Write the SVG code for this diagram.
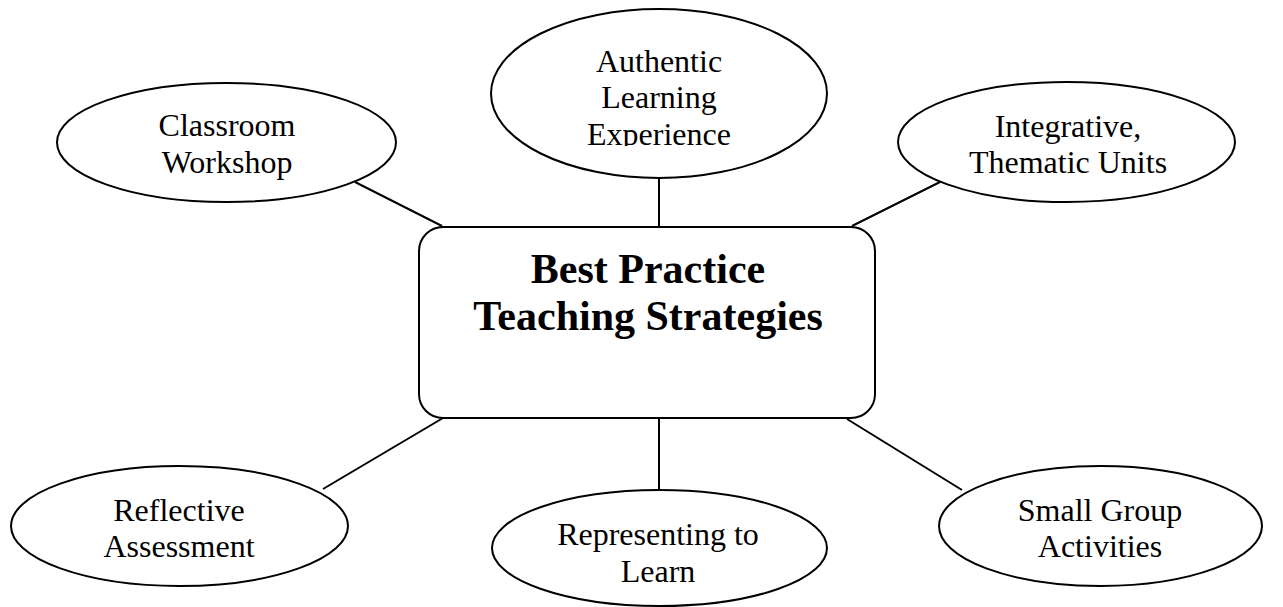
<svg xmlns="http://www.w3.org/2000/svg" width="1283" height="607" viewBox="0 0 1283 607">
  <style>
    .node { fill: #ffffff; stroke: #000000; stroke-width: 2; }
    .link { stroke: #000000; stroke-width: 2; fill: none; }
    .label { font-family: "Liberation Serif", "Times New Roman", serif; font-size: 32px; fill: #000000; text-anchor: middle; }
    .title { font-family: "Liberation Serif", "Times New Roman", serif; font-size: 42px; font-weight: bold; fill: #000000; text-anchor: middle; }
  </style>
  <defs>
    <!-- the text frame of the top oval cuts off its last line -->
    <clipPath id="authentic-clip">
      <rect x="491" y="30" width="336" height="116"/>
    </clipPath>
  </defs>
  <rect width="1283" height="607" fill="#ffffff"/>

  <g id="connectors">
    <line class="link" x1="659" y1="178" x2="659" y2="227"/>
    <line class="link" x1="355" y1="182" x2="442" y2="226"/>
    <line class="link" x1="940" y1="182" x2="852" y2="226"/>
    <line class="link" x1="443" y1="418" x2="323" y2="489"/>
    <line class="link" x1="847" y1="419" x2="962" y2="490"/>
    <line class="link" x1="659" y1="418" x2="659" y2="490"/>
  </g>

  <g id="center">
    <rect class="node" x="419" y="227" width="456" height="191" rx="24" ry="24"/>
    <text class="title" x="648" y="283">Best Practice</text>
    <text class="title" x="648" y="330">Teaching Strategies</text>
  </g>

  <g id="authentic">
    <ellipse class="node" cx="659" cy="93.5" rx="168" ry="84.5"/>
    <g clip-path="url(#authentic-clip)">
      <text class="label" x="659" y="72">Authentic</text>
      <text class="label" x="659" y="108">Learning</text>
      <text class="label" x="659" y="145">Experience</text>
    </g>
  </g>

  <g id="classroom">
    <ellipse class="node" cx="226.5" cy="142.5" rx="169.5" ry="59.5"/>
    <text class="label" x="227" y="136">Classroom</text>
    <text class="label" x="227" y="173">Workshop</text>
  </g>

  <g id="integrative">
    <ellipse class="node" cx="1066.5" cy="142" rx="168.5" ry="60"/>
    <text class="label" x="1068" y="137">Integrative,</text>
    <text class="label" x="1068" y="173">Thematic Units</text>
  </g>

  <g id="reflective">
    <ellipse class="node" cx="179.5" cy="526" rx="168.5" ry="60"/>
    <text class="label" x="179" y="521">Reflective</text>
    <text class="label" x="179" y="557">Assessment</text>
  </g>

  <g id="representing">
    <ellipse class="node" cx="659.5" cy="548" rx="167.5" ry="58"/>
    <text class="label" x="658" y="545">Representing to</text>
    <text class="label" x="658" y="582">Learn</text>
  </g>

  <g id="small-group">
    <ellipse class="node" cx="1100.5" cy="526" rx="161.5" ry="60"/>
    <text class="label" x="1100" y="521">Small Group</text>
    <text class="label" x="1100" y="557">Activities</text>
  </g>
</svg>
